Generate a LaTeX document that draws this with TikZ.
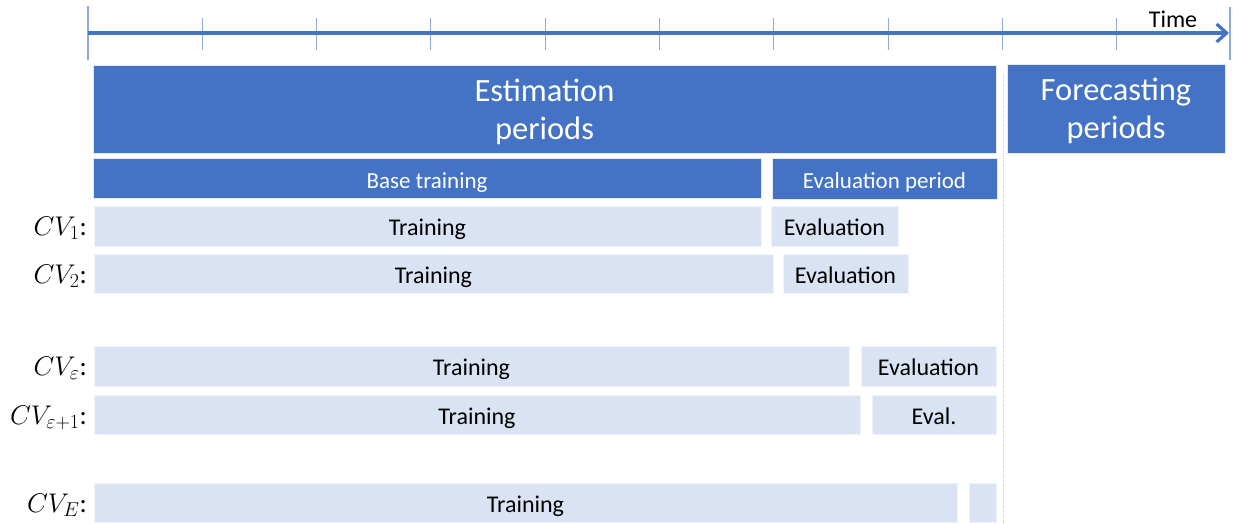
\documentclass[tikz,border=0pt]{standalone}
\usepackage{fix-cm}
\usepackage{fontspec}
\setmainfont{Carlito}
\DeclareMathSizes{27}{27}{20}{15}
\usetikzlibrary{arrows.meta}
\definecolor{accent}{HTML}{4472C4}
\definecolor{pale}{HTML}{DAE3F3}
\definecolor{tickc}{HTML}{8FAADC}
\definecolor{guide}{HTML}{C5D4EE}
\begin{document}
\begin{tikzpicture}[x=1pt,y=-1pt,
  box/.style={anchor=north west, inner sep=0pt, outer sep=0pt},
  darkbox/.style={box, fill=accent, draw=white!85!accent, line width=0.6pt, text=white},
  litebox/.style={box, fill=pale, draw=white!60!pale, line width=0.6pt, text=black,
    font=\fontsize{24}{28}\selectfont, text height=19pt, text depth=0pt},
  bigtext/.style={align=center, font=\fontsize{32.5}{38}\selectfont, text depth=0pt},
  midtext/.style={font=\fontsize{23}{27}\selectfont, text height=20pt, text depth=0pt},
  cvlabel/.style={anchor=base east, inner sep=0pt, font=\fontsize{27}{30}\selectfont},
  tickline/.style={tickc, line width=1.1pt}]
\useasboundingbox (0,0) rectangle (1238,523);

% time axis with ticks
\draw[tickline] (88,6) -- (88,60);
\draw[tickline] (1230,7) -- (1230,60);
\foreach \k in {1,...,9}
  \draw[tickline] ({88+114.3*\k},18) -- ({88+114.3*\k},50);
\coordinate (axstart) at (88,33);
\coordinate (axend) at (1229,33);
\draw[accent, line width=3.4pt,
  -{Straight Barb[length=10pt,width=18pt,line width=3.2pt]}] (axstart) -- (axend);
\node[font=\fontsize{24}{28}\selectfont] (time) at (1173,19) {Time};

% border between estimation and forecasting
\draw[guide, line width=1pt, dash pattern=on 1.5pt off 1pt] (1003,75) -- (1003,523);

% period headers
\node[darkbox, bigtext, minimum width=903pt, minimum height=88pt] (est) at (93,65)
  {Estimation\\periods};
\node[darkbox, bigtext, minimum width=218pt, minimum height=89pt] (fore) at (1007,64)
  {Forecasting\\periods};
\node[darkbox, midtext, minimum width=668pt, minimum height=40pt] (base) at (93,158)
  {Base training};
\node[darkbox, midtext, minimum width=225pt, minimum height=41pt] (evalp) at (772,158)
  {Evaluation period};

% cross-validation folds
\node[litebox, minimum width=667pt, minimum height=40pt] (tr1) at (94,206) {Training};
\node[litebox, minimum width=127pt, minimum height=40pt] (ev1) at (771,206) {Evaluation};
\node[litebox, minimum width=679pt, minimum height=39pt] (tr2) at (94,254) {Training};
\node[litebox, minimum width=125pt, minimum height=39pt] (ev2) at (783,254) {Evaluation};
\node[litebox, minimum width=755pt, minimum height=40pt] (tre) at (94,346) {Training};
\node[litebox, minimum width=135pt, minimum height=40pt] (eve) at (861,346) {Evaluation};
\node[litebox, minimum width=766pt, minimum height=39pt] (trf) at (94,395) {Training};
\node[litebox, minimum width=124pt, minimum height=39pt] (evf) at (872,395) {Eval.};
\node[litebox, minimum width=863pt, minimum height=39pt] (trl) at (94,483) {Training};
\node[litebox, minimum width=27pt, minimum height=39pt] (evl) at (969,483) {};

% fold labels, on the baseline of their row
\node[cvlabel] (l1) at (87,235.5) {$CV_{1}$:};
\node[cvlabel] (l2) at (87,283) {$CV_{2}$:};
\node[cvlabel] (le) at (87,375.5) {$CV_{\varepsilon}$:};
\node[cvlabel] (lf) at (87,424) {$CV_{\varepsilon+1}$:};
\node[cvlabel] (ll) at (87,512) {$CV_{E}$:};
\end{tikzpicture}
\end{document}
